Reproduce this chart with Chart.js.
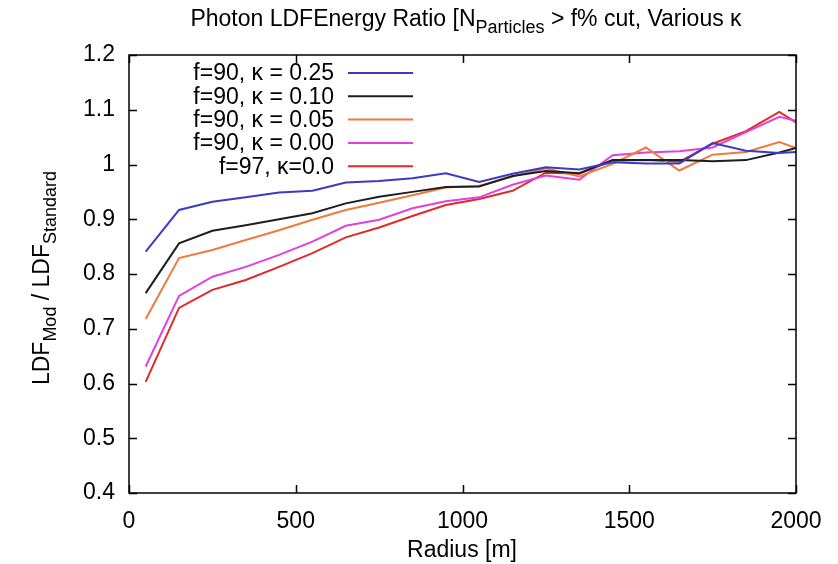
<!DOCTYPE html>
<html>
<head>
<meta charset="utf-8">
<script src="https://cdn.jsdelivr.net/npm/chart.js@4.4.1/dist/chart.umd.min.js"></script>
<style>
  html, body { margin: 0; padding: 0; background: #ffffff; }
  #wrap { width: 838px; height: 564px; }
</style>
</head>
<body>
<div id="wrap"><canvas id="c" width="838" height="564"></canvas></div>
<script>
// ---- data ----
const radius = [50, 150, 250, 350, 450, 550, 650, 750, 850, 950, 1050, 1150, 1250, 1350, 1450, 1550, 1650, 1750, 1850, 1950, 2000];

const seriesLabels = ["f=90, \u03BA = 0.25", "f=90, \u03BA = 0.10", "f=90, \u03BA = 0.05", "f=90, \u03BA = 0.00", "f=97, \u03BA=0.0"];

const k025 = [0.841, 0.917, 0.932, 0.940, 0.949, 0.952, 0.967, 0.970, 0.975, 0.984, 0.968, 0.983, 0.995, 0.991, 1.004, 1.002, 1.002, 1.039, 1.025, 1.021, 1.023];
const k010 = [0.765, 0.856, 0.879, 0.889, 0.900, 0.911, 0.929, 0.941, 0.950, 0.959, 0.960, 0.979, 0.988, 0.984, 1.008, 1.008, 1.008, 1.006, 1.008, 1.022, 1.030];
const k005 = [0.718, 0.829, 0.844, 0.862, 0.880, 0.899, 0.917, 0.930, 0.944, 0.958, 0.961, 0.978, 0.993, 0.978, 1.001, 1.031, 0.989, 1.018, 1.023, 1.041, 1.030];
const k000 = [0.631, 0.760, 0.795, 0.813, 0.835, 0.859, 0.888, 0.899, 0.920, 0.933, 0.940, 0.963, 0.980, 0.972, 1.017, 1.022, 1.024, 1.031, 1.059, 1.087, 1.080];
const f97k00 = [0.603, 0.738, 0.771, 0.789, 0.813, 0.838, 0.867, 0.885, 0.906, 0.926, 0.937, 0.952, 0.985, 0.983, 1.007, 1.008, 1.005, 1.038, 1.061, 1.096, 1.077];

const xTicks = [0, 500, 1000, 1500, 2000];
const yTicks = [0.4, 0.5, 0.6, 0.7, 0.8, 0.9, 1.0, 1.1, 1.2];

// ---- styling ----
const colors = ["#3a3ac4", "#1e1e1e", "#ef7a3c", "#e23fe2", "#e02a2a"];
const FONT = "'Liberation Sans', Arial, Helvetica, sans-serif";
const FS = 23;

const allSeries = [k025, k010, k005, k000, f97k00];
const datasets = allSeries.map((vals, i) => ({
  label: seriesLabels[i],
  data: radius.map((r, j) => ({ x: r, y: vals[j] })),
  borderColor: colors[i],
  backgroundColor: colors[i],
  borderWidth: 2,
  pointRadius: 0,
  tension: 0,
  fill: false
}));

function drawSubText(ctx, parts, x, y, size, align) {
  let total = 0;
  parts.forEach(p => {
    ctx.font = (p.sub ? Math.round(size * 0.78) : size) + "px " + FONT;
    p.w = ctx.measureText(p.t).width;
    total += p.w;
  });
  let cx = align === 'center' ? x - total / 2 : x;
  parts.forEach(p => {
    ctx.font = (p.sub ? Math.round(size * 0.78) : size) + "px " + FONT;
    ctx.textAlign = 'left';
    ctx.textBaseline = 'alphabetic';
    ctx.fillText(p.t, cx, y + (p.sub ? size * 0.3 : 0));
    cx += p.w;
  });
}

const decor = {
  id: 'decor',
  afterDraw(chart) {
    const ctx = chart.ctx;
    const a = chart.chartArea;
    const xs = chart.scales.x, ys = chart.scales.y;
    ctx.save();
    ctx.strokeStyle = '#000';
    ctx.fillStyle = '#000';
    ctx.lineWidth = 1.5;
    ctx.strokeRect(a.left, a.top, a.right - a.left, a.bottom - a.top);
    const tl = 8;
    ctx.beginPath();
    yTicks.forEach(v => {
      const py = Math.round(ys.getPixelForValue(v)) + 0.5;
      ctx.moveTo(a.left, py); ctx.lineTo(a.left + tl, py);
      ctx.moveTo(a.right, py); ctx.lineTo(a.right - tl, py);
    });
    xTicks.forEach(v => {
      const px = Math.round(xs.getPixelForValue(v)) + 0.5;
      ctx.moveTo(px, a.bottom); ctx.lineTo(px, a.bottom - tl);
      ctx.moveTo(px, a.top); ctx.lineTo(px, a.top + tl);
    });
    ctx.stroke();

    // title
    drawSubText(ctx, [
      { t: "Photon LDFEnergy Ratio [N" },
      { t: "Particles", sub: true },
      { t: " > f% cut, Various \u03BA" }
    ], 466, 26, FS, 'center');

    // x axis title
    ctx.font = FS + "px " + FONT;
    ctx.textAlign = 'center';
    ctx.textBaseline = 'alphabetic';
    ctx.fillText("Radius [m]", 462, 557);

    // y axis title (rotated)
    ctx.save();
    ctx.translate(49, 278);
    ctx.rotate(-Math.PI / 2);
    drawSubText(ctx, [
      { t: "LDF" }, { t: "Mod", sub: true }, { t: " / LDF" }, { t: "Standard", sub: true }
    ], 0, 0, FS, 'center');
    ctx.restore();

    // legend
    const rowY0 = 73, rowDy = 23.3;
    chart.data.datasets.forEach((ds, i) => {
      const y = rowY0 + i * rowDy;
      ctx.font = FS + "px " + FONT;
      ctx.textAlign = 'right';
      ctx.textBaseline = 'middle';
      ctx.fillStyle = '#000';
      ctx.fillText(ds.label, 334, y + 1);
      ctx.strokeStyle = ds.borderColor;
      ctx.lineWidth = 2;
      ctx.beginPath();
      ctx.moveTo(348, y); ctx.lineTo(413, y);
      ctx.stroke();
    });
    ctx.restore();
  }
};

new Chart(document.getElementById('c'), {
  type: 'line',
  data: { datasets },
  options: {
    responsive: false,
    animation: false,
    devicePixelRatio: 1,
    layout: { padding: { left: 0, right: 42, top: 55, bottom: 0 } },
    plugins: { legend: { display: false }, tooltip: { enabled: false }, title: { display: false } },
    scales: {
      x: {
        type: 'linear', min: 0, max: 2000,
        afterBuildTicks: s => { s.ticks = xTicks.map(v => ({ value: v })); },
        afterFit: s => { s.height = 71; },
        grid: { display: false, drawTicks: false },
        border: { display: false },
        ticks: { color: '#000', font: { family: FONT, size: FS }, padding: 15, maxRotation: 0,
          callback: v => String(v) }
      },
      y: {
        type: 'linear', min: 0.4, max: 1.2,
        afterBuildTicks: s => { s.ticks = yTicks.map(v => ({ value: v })); },
        afterFit: s => { s.width = 129; },
        grid: { display: false, drawTicks: false },
        border: { display: false },
        ticks: { color: '#000', font: { family: FONT, size: FS }, padding: 14,
          callback: v => String(Number(v.toFixed(1))) }
      }
    }
  },
  plugins: [decor]
});
</script>
</body>
</html>
